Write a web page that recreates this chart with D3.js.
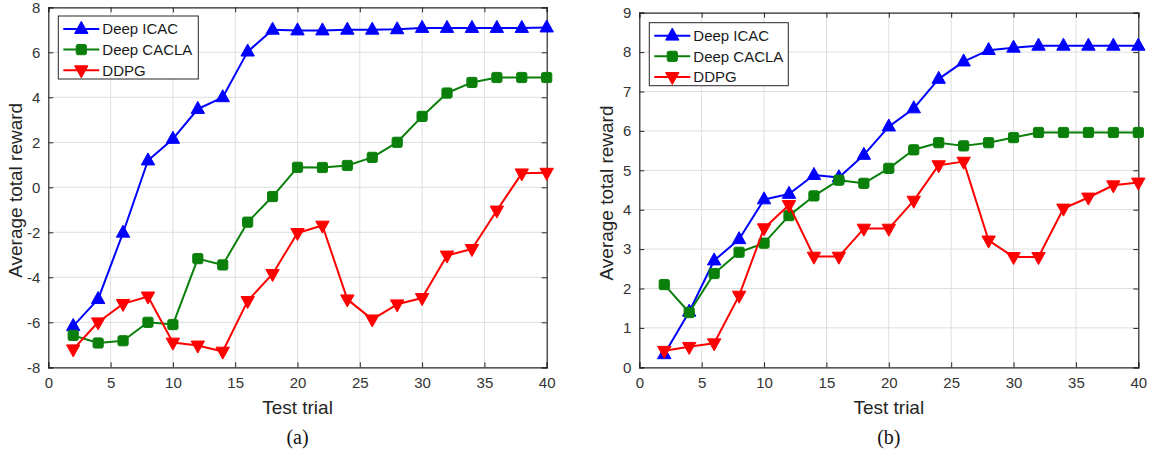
<!DOCTYPE html>
<html>
<head>
<meta charset="utf-8">
<script src="https://cdn.jsdelivr.net/npm/d3@7"></script>
<style>
  html, body { margin: 0; padding: 0; background: #fff; }
  svg { display: block; }
</style>
</head>
<body>
<svg id="chart" width="1151" height="452"></svg>
<script>
// Test trials shared by both experiments
const trials = [2, 4, 6, 8, 10, 12, 14, 16, 18, 20, 22, 24, 26, 28, 30, 32, 34, 36, 38, 40];
const seriesNames = ["Deep ICAC", "Deep CACLA", "DDPG"];

// Experiment (a): average total reward per test trial
const icacA   = [-6.17, -4.97, -2.02, 1.19, 2.15, 3.48, 4.0, 6.03, 7.0, 6.97, 6.97, 7.0, 7.0, 7.02, 7.08, 7.08, 7.08, 7.08, 7.08, 7.1];
const caclaA  = [-6.58, -6.92, -6.82, -6.0, -6.1, -3.17, -3.45, -1.55, -0.41, 0.89, 0.88, 0.97, 1.33, 2.0, 3.15, 4.19, 4.66, 4.88, 4.88, 4.88];
const ddpgA   = [-7.2, -6.0, -5.18, -4.85, -6.9, -7.03, -7.3, -5.05, -3.85, -2.03, -1.7, -4.98, -5.87, -5.2, -4.92, -3.03, -2.74, -1.03, 0.62, 0.65];

// Experiment (b): average total reward per test trial
const icacB   = [0.33, 1.41, 2.71, 3.25, 4.26, 4.4, 4.88, 4.82, 5.39, 6.11, 6.57, 7.32, 7.76, 8.05, 8.11, 8.16, 8.16, 8.16, 8.16, 8.16];
const caclaB  = [2.1, 1.39, 2.38, 2.92, 3.15, 3.85, 4.35, 4.75, 4.67, 5.05, 5.52, 5.7, 5.62, 5.7, 5.83, 5.96, 5.96, 5.96, 5.96, 5.96];
const ddpgB   = [0.42, 0.52, 0.61, 1.82, 3.53, 4.12, 2.81, 2.81, 3.52, 3.52, 4.23, 5.13, 5.22, 3.22, 2.8, 2.8, 4.03, 4.31, 4.62, 4.69];

// Axis ticks
const xTicks  = [0, 5, 10, 15, 20, 25, 30, 35, 40];
const yTicksA = [-8, -6, -4, -2, 0, 2, 4, 6, 8];
const yTicksB = [0, 1, 2, 3, 4, 5, 6, 7, 8, 9];

const colors  = ["#0000ff", "#0a800a", "#ff0000"];
const shapes  = ["up", "square", "down"];
const FONT = "'Liberation Sans', Arial, Helvetica, sans-serif";
const AXIS_COLOR = "#262626";

const svg = d3.select("#chart");

function markerPath(shape) {
  if (shape === "up") {
    return "M0,-7.6 L6.7,4.4 L-6.7,4.4 Z";
  } else if (shape === "down") {
    return "M0,7.6 L6.7,-4.4 L-6.7,-4.4 Z";
  }
  // rounded square
  const s = 5.1, r = 1.7;
  return `M${-s + r},${-s} H${s - r} Q${s},${-s} ${s},${-s + r} V${s - r} Q${s},${s} ${s - r},${s} H${-s + r} Q${-s},${s} ${-s},${s - r} V${-s + r} Q${-s},${-s} ${-s + r},${-s} Z`;
}

function drawPanel(cfg) {
  const g = svg.append("g");
  const x = d3.scaleLinear().domain([0, 40]).range([cfg.left, cfg.right]);
  const y = d3.scaleLinear().domain(cfg.yDomain).range([cfg.bottom, cfg.top]);

  // grid
  g.append("g").selectAll("line").data(xTicks.slice(1, -1)).join("line")
    .attr("x1", d => x(d)).attr("x2", d => x(d))
    .attr("y1", cfg.top).attr("y2", cfg.bottom)
    .attr("stroke", "#dedede").attr("stroke-width", 1);
  g.append("g").selectAll("line").data(cfg.yTicks.slice(1, -1)).join("line")
    .attr("y1", d => y(d)).attr("y2", d => y(d))
    .attr("x1", cfg.left).attr("x2", cfg.right)
    .attr("stroke", "#dedede").attr("stroke-width", 1);

  // axes with labels (bottom / left), inward ticks
  const xAxis = d3.axisBottom(x).tickValues(xTicks).tickSize(-5).tickPadding(10).tickFormat(d3.format("d"));
  const yAxis = d3.axisLeft(y).tickValues(cfg.yTicks).tickSize(-5).tickPadding(8).tickFormat(d => String(d));
  const gx = g.append("g").attr("transform", `translate(0,${cfg.bottom})`).call(xAxis);
  const gy = g.append("g").attr("transform", `translate(${cfg.left},0)`).call(yAxis);
  // mirrored ticks on top / right
  const gxt = g.append("g").attr("transform", `translate(0,${cfg.top})`)
    .call(d3.axisTop(x).tickValues(xTicks).tickSize(-5).tickFormat(""));
  const gyr = g.append("g").attr("transform", `translate(${cfg.right},0)`)
    .call(d3.axisRight(y).tickValues(cfg.yTicks).tickSize(-5).tickFormat(""));
  [gx, gy, gxt, gyr].forEach(a => {
    a.select(".domain").attr("stroke", AXIS_COLOR).attr("stroke-width", 1.2);
    a.selectAll(".tick line").attr("stroke", AXIS_COLOR).attr("stroke-width", 1);
    a.selectAll("text").attr("fill", "#333").style("font-family", FONT).style("font-size", "15px");
  });

  // axis titles
  g.append("text")
    .attr("x", (cfg.left + cfg.right) / 2).attr("y", cfg.bottom + 47)
    .attr("text-anchor", "middle")
    .style("font-family", FONT).style("font-size", "19px").attr("fill", "#262626")
    .text("Test trial");
  g.append("text")
    .attr("transform", `translate(${cfg.ylabelX},${(cfg.top + cfg.bottom) / 2 + 3}) rotate(-90)`)
    .attr("text-anchor", "middle")
    .style("font-family", FONT).style("font-size", "19px").attr("fill", "#262626")
    .text("Average total reward");

  // panel caption
  g.append("text")
    .attr("x", (cfg.left + cfg.right) / 2).attr("y", cfg.bottom + 77)
    .attr("text-anchor", "middle")
    .style("font-family", "'Liberation Serif', 'Times New Roman', serif").style("font-size", "20px").attr("fill", "#111")
    .text(cfg.caption);

  // series
  const line = d3.line().x((d, i) => x(trials[i])).y(d => y(d));
  cfg.series.forEach((vals, k) => {
    g.append("path").datum(vals)
      .attr("d", line).attr("fill", "none")
      .attr("stroke", colors[k]).attr("stroke-width", 2).attr("stroke-linejoin", "round");
    g.append("g").selectAll("path").data(vals).join("path")
      .attr("transform", (d, i) => `translate(${x(trials[i])},${y(d)})`)
      .attr("d", markerPath(shapes[k]))
      .attr("fill", colors[k]).attr("stroke", colors[k]).attr("stroke-width", 1);
  });

  // legend
  const lg = g.append("g").attr("transform", `translate(${cfg.legendX},${cfg.legendY})`);
  lg.append("rect").attr("x", 0).attr("y", 0).attr("width", cfg.legendW).attr("height", 63)
    .attr("fill", "#fff").attr("stroke", AXIS_COLOR).attr("stroke-width", 1);
  seriesNames.forEach((name, k) => {
    const yy = 13 + k * 20.6;
    lg.append("line").attr("x1", 5).attr("x2", 41).attr("y1", yy).attr("y2", yy)
      .attr("stroke", colors[k]).attr("stroke-width", 2);
    lg.append("path").attr("transform", `translate(23,${yy})`)
      .attr("d", markerPath(shapes[k])).attr("fill", colors[k]).attr("stroke", colors[k]);
    lg.append("text").attr("x", 44).attr("y", yy + 5.3)
      .style("font-family", FONT).style("font-size", "15px").attr("fill", "#1a1a1a")
      .text(name);
  });
}

drawPanel({
  left: 48.3, right: 546.7, top: 7.3, bottom: 367.3,
  yDomain: [-8, 8], yTicks: yTicksA, ylabelX: 22,
  series: [icacA, caclaA, ddpgA], caption: "(a)",
  legendX: 58.3, legendY: 16, legendW: 140
});
drawPanel({
  left: 639.3, right: 1138.3, top: 12.7, bottom: 367.3,
  yDomain: [0, 9], yTicks: yTicksB, ylabelX: 613,
  series: [icacB, caclaB, ddpgB], caption: "(b)",
  legendX: 649.3, legendY: 22.7, legendW: 139
});
</script>
</body>
</html>
